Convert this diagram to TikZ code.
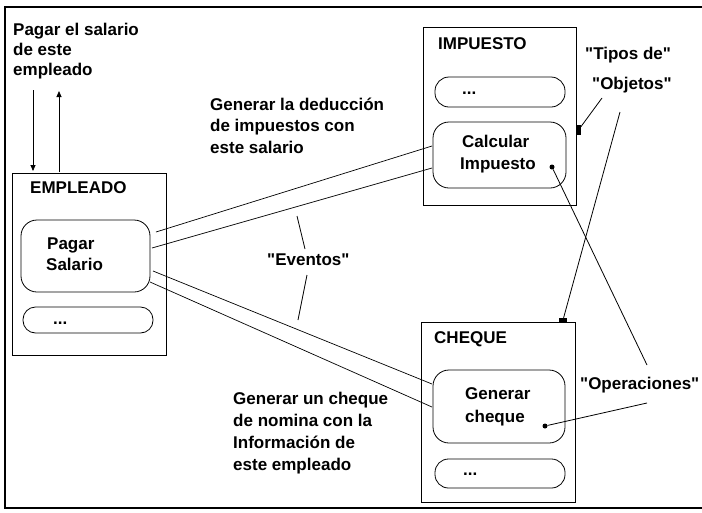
\documentclass[tikz,border=0pt]{standalone}
\usepackage{fontspec}
\setmainfont{Liberation Sans}[Ligatures=TeXOff]
\usetikzlibrary{arrows.meta}
\begin{document}
\begin{tikzpicture}[x=1pt,y=-1pt,
  txt/.style={anchor=base west, inner sep=0pt, font=\fontsize{17}{21}\selectfont\bfseries},
  objbox/.style={draw, line width=0.8pt, inner sep=0pt},
  opbox/.style={draw, line width=0.8pt, inner sep=0pt, rounded corners=#1},
  conn/.style={line width=0.7pt},
  ptr/.style={line width=0.8pt},
  marker/.style={fill, inner sep=0pt},
  arr/.style={line width=0.8pt, -{Triangle[length=6pt,width=5pt]}}]
\useasboundingbox (0,0) rectangle (702,512);
% frame
\draw[line width=1.6pt] (702,7) -- (5,7) -- (5,508) -- (702,508);

% object boxes
\node[objbox, minimum width=154pt, minimum height=182pt] (emp) at (89,264) {};
\node[objbox, minimum width=153pt, minimum height=178pt] (imp) at (499.5,116) {};
\node[objbox, minimum width=154pt, minimum height=180pt] (chq) at (498,412) {};

% operation boxes
\node[opbox=16pt, minimum width=129pt, minimum height=72pt] (pagar) at (85.5,256) {};
\node[opbox=12.5pt, minimum width=130pt, minimum height=26pt] (empdots) at (88,320) {};
\node[opbox=14pt, minimum width=130pt, minimum height=30pt] (impdots) at (500,92) {};
\node[opbox=16pt, minimum width=133pt, minimum height=66pt] (calc) at (499.5,155) {};
\node[opbox=16pt, minimum width=132pt, minimum height=73pt] (gen) at (499,406.5) {};
\node[opbox=13.5pt, minimum width=130pt, minimum height=29pt] (chqdots) at (500,473.5) {};

% titles and operation texts
\node[txt] (emptitle) at (30,193) {EMPLEADO};
\node[txt] (imptitle) at (438,49) {IMPUESTO};
\node[txt] (chqtitle) at (434,343) {CHEQUE};
\node[txt] (pagar1) at (47,249) {Pagar};
\node[txt] (pagar2) at (46,270) {Salario};
\node[txt] (calc1) at (462,147) {Calcular};
\node[txt] (calc2) at (460,169) {Impuesto};
\node[txt] (gen1) at (465,399) {Generar};
\node[txt] (gen2) at (465,422) {cheque};
\node[txt] (empdotst) at (53,324) {...};
\node[txt] (impdotst) at (462,94) {...};
\node[txt] (chqdotst) at (463,475) {...};

% free labels
\node[txt] (msg1) at (13,35) {Pagar el salario};
\node[txt] (msg2) at (13,55) {de este};
\node[txt] (msg3) at (13,75) {empleado};
\node[txt] (ded1) at (210,110) {Generar la deducción};
\node[txt] (ded2) at (210,131.5) {de impuestos con};
\node[txt] (ded3) at (210,153) {este salario};
\node[txt] (gch1) at (233,404) {Generar un cheque};
\node[txt] (gch2) at (233,426) {de nomina con la};
\node[txt] (gch3) at (233,448) {Información de};
\node[txt] (gch4) at (233,470) {este empleado};
\node[txt] (eventos) at (267,265) {"Eventos"};
\node[txt] (tipos1) at (585,59) {"Tipos de"};
\node[txt] (tipos2) at (592,89) {"Objetos"};
\node[txt] (operac) at (580,389) {"Operaciones"};

% markers
\node[marker, circle, minimum size=5pt] (cdot) at (552,167) {};
\node[marker, circle, minimum size=5pt] (gdot) at (545,426) {};
\node[marker, minimum width=4pt, minimum height=10pt] (impmark) at (578.5,130) {};
\node[marker, minimum width=8pt, minimum height=4pt] (chqmark) at (563,320) {};

% message arrows
\coordinate (a1s) at (33,90);
\coordinate (a1e) at (33,171);
\coordinate (a2s) at (59,172);
\coordinate (a2e) at (59,91);
\draw[arr] (a1s) -- (a1e);
\draw[arr] (a2s) -- (a2e);

% event connectors
\coordinate (pc1) at (156,232);
\coordinate (pc2) at (152,248);
\coordinate (pg1) at (153,271);
\coordinate (pg2) at (150,282);
\coordinate (cc1) at (432,146);
\coordinate (cc2) at (432,168);
\coordinate (gc1) at (432,384);
\coordinate (gc2) at (432,407);
\draw[conn] (pc1) -- (cc1);
\draw[conn] (pc2) -- (cc2);
\draw[conn] (pg1) -- (gc1);
\draw[conn] (pg2) -- (gc2);

% pointer lines
\coordinate (ev1a) at (297,216);
\coordinate (ev1b) at (305,249);
\coordinate (ev2a) at (307,275);
\coordinate (ev2b) at (298,320);
\draw[ptr] (ev1a) -- (ev1b);
\draw[ptr] (ev2a) -- (ev2b);
\coordinate (tp1) at (602,98);
\coordinate (tp2) at (620,112);
\draw[ptr] (tp1) -- (impmark);
\draw[ptr] (tp2) -- (chqmark);
\coordinate (op1) at (647,365);
\coordinate (op2) at (647,403);
\draw[ptr] (cdot) -- (op1);
\draw[ptr] (gdot) -- (op2);
\end{tikzpicture}
\end{document}
